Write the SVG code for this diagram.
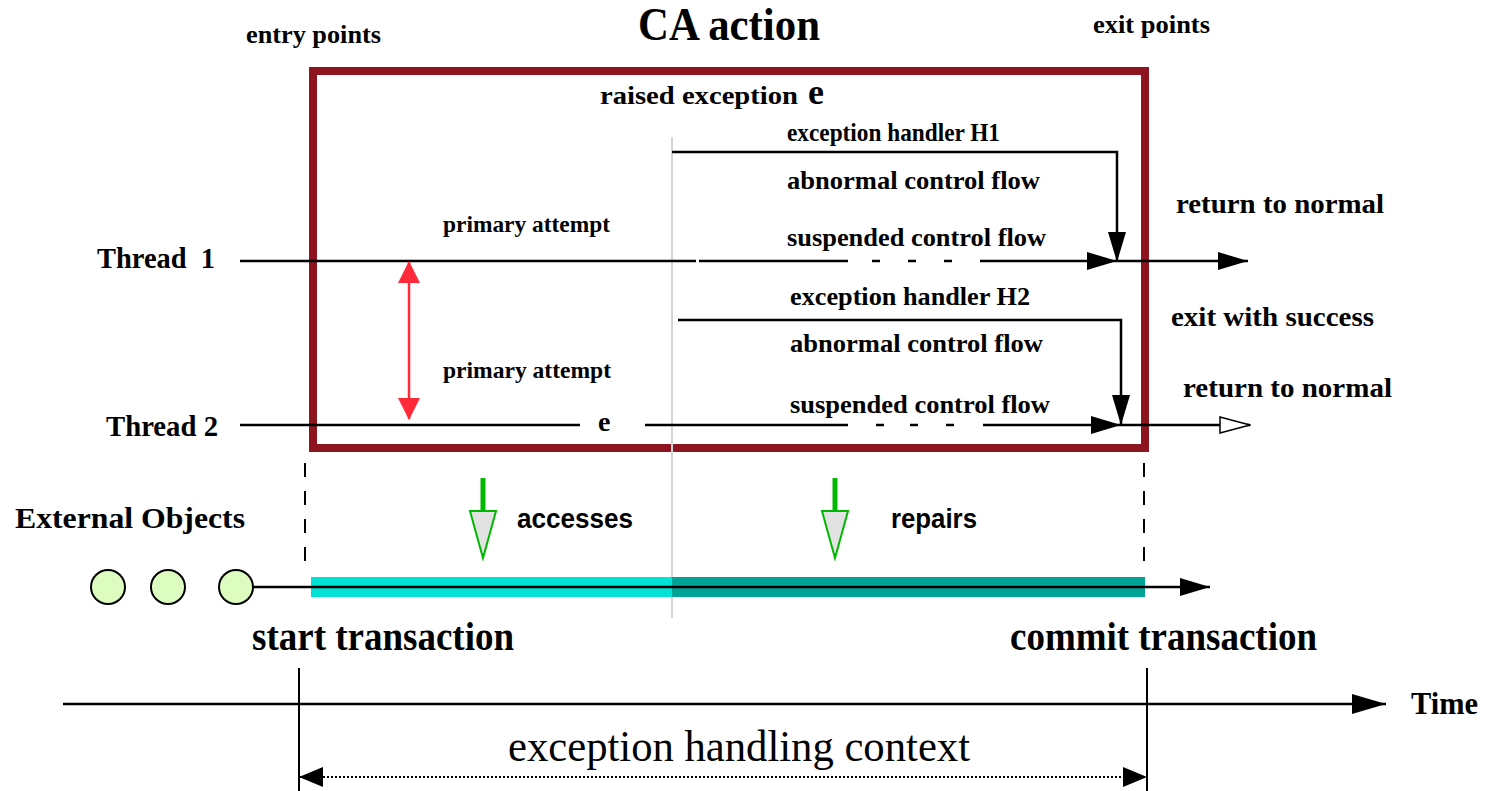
<svg xmlns="http://www.w3.org/2000/svg" width="1487" height="791" viewBox="0 0 1487 791">
  <style>
    .lbl { font-family: "Liberation Serif", "Times New Roman", serif; font-weight: bold; fill: #000; }
    .sans { font-family: "Liberation Sans", Arial, sans-serif; font-weight: bold; fill: #000; }
    .reg { font-family: "Liberation Serif", "Times New Roman", serif; fill: #000; }
    .flow { fill: none; stroke: #000; stroke-width: 2.5; }
    .dash { fill: none; stroke: #000; stroke-width: 2; stroke-dasharray: 14 14; }
  </style>
  <defs>
    <marker id="head" viewBox="0 0 30 18" refX="30" refY="9" markerWidth="30" markerHeight="18" markerUnits="userSpaceOnUse" orient="auto">
      <path d="M0 0 L30 9 L0 18 Z" fill="#000"/>
    </marker>
    <marker id="head-open" viewBox="0 0 32 18" refX="31" refY="9" markerWidth="32" markerHeight="18" markerUnits="userSpaceOnUse" orient="auto">
      <path d="M1 1 L31 9 L1 17 Z" fill="#fff" stroke="#000" stroke-width="1.5"/>
    </marker>
    <marker id="head-red" viewBox="0 0 22 22" refX="21" refY="11" markerWidth="22" markerHeight="22" markerUnits="userSpaceOnUse" orient="auto-start-reverse">
      <path d="M0 0 L22 11 L0 22 Z" fill="#ff2a3a"/>
    </marker>
    <marker id="head-dim" viewBox="0 0 24 20" refX="24" refY="10" markerWidth="24" markerHeight="20" markerUnits="userSpaceOnUse" orient="auto-start-reverse">
      <path d="M0 0 L24 10 L0 20 Z" fill="#000"/>
    </marker>
    <marker id="head-time" viewBox="0 0 34 20" refX="34" refY="10" markerWidth="34" markerHeight="20" markerUnits="userSpaceOnUse" orient="auto">
      <path d="M0 0 L34 10 L0 20 Z" fill="#000"/>
    </marker>
    <g id="green-arrow">
      <line x1="0" y1="0" x2="0" y2="33" stroke="#00b800" stroke-width="5"/>
      <path d="M-13 33 L13 33 L0 80 Z" fill="#e2e2e2" stroke="#00b800" stroke-width="2"/>
    </g>
  </defs>

  <!-- headings -->
  <g id="headings">
    <text class="lbl" x="246" y="43" font-size="26" textLength="135" lengthAdjust="spacingAndGlyphs">entry points</text>
    <text class="lbl" x="638" y="40" font-size="46" textLength="182" lengthAdjust="spacingAndGlyphs">CA action</text>
    <text class="lbl" x="1093" y="33" font-size="25" textLength="117" lengthAdjust="spacingAndGlyphs">exit points</text>
  </g>

  <!-- CA action boundary -->
  <g id="ca-action">
    <rect x="313" y="71" width="832" height="377" fill="none" stroke="#8e1520" stroke-width="8"/>
    <text class="lbl" x="600" y="104" font-size="25" textLength="198" lengthAdjust="spacingAndGlyphs">raised exception</text>
    <text class="lbl" x="808" y="104" font-size="36">e</text>
  </g>

  <!-- moment the exception is raised -->
  <line id="raise-point" x1="672" y1="137" x2="672" y2="618" stroke="#d4d4d4" stroke-width="2"/>

  <!-- thread 1 -->
  <g id="thread1">
    <text class="lbl" x="97" y="268" font-size="29" textLength="118" lengthAdjust="spacingAndGlyphs" xml:space="preserve">Thread  1</text>
    <text class="lbl" x="443" y="232" font-size="23" textLength="167" lengthAdjust="spacingAndGlyphs">primary attempt</text>
    <text class="lbl" x="787" y="246" font-size="25" textLength="259" lengthAdjust="spacingAndGlyphs">suspended control flow</text>
    <text class="lbl" x="1176" y="213" font-size="27" textLength="208" lengthAdjust="spacingAndGlyphs">return to normal</text>
  </g>

  <!-- handler H1 -->
  <g id="handler-h1">
    <text class="lbl" x="787" y="141" font-size="26" textLength="213" lengthAdjust="spacingAndGlyphs">exception handler H1</text>
    <text class="lbl" x="787" y="189" font-size="25" textLength="253" lengthAdjust="spacingAndGlyphs">abnormal control flow</text>
  </g>

  <!-- thread 2 -->
  <g id="thread2">
    <text class="lbl" x="106" y="436" font-size="29" textLength="112" lengthAdjust="spacingAndGlyphs">Thread 2</text>
    <text class="lbl" x="443" y="378" font-size="23" textLength="168" lengthAdjust="spacingAndGlyphs">primary attempt</text>
    <text class="lbl" x="598" y="431" font-size="28">e</text>
    <text class="lbl" x="790" y="413" font-size="25" textLength="260" lengthAdjust="spacingAndGlyphs">suspended control flow</text>
    <text class="lbl" x="1171" y="326" font-size="27" textLength="203" lengthAdjust="spacingAndGlyphs">exit with success</text>
    <text class="lbl" x="1183" y="397" font-size="27" textLength="209" lengthAdjust="spacingAndGlyphs">return to normal</text>
  </g>

  <!-- handler H2 -->
  <g id="handler-h2">
    <text class="lbl" x="790" y="305" font-size="26" textLength="240" lengthAdjust="spacingAndGlyphs">exception handler H2</text>
    <text class="lbl" x="790" y="352" font-size="25" textLength="253" lengthAdjust="spacingAndGlyphs">abnormal control flow</text>
  </g>

  <!-- external objects and their transaction -->
  <g id="external-objects">
    <text class="lbl" x="15" y="528" font-size="30" textLength="230" lengthAdjust="spacingAndGlyphs">External Objects</text>
    <circle cx="108" cy="587" r="17" fill="#ddfcc0" stroke="#000" stroke-width="2"/>
    <circle cx="168" cy="587" r="17" fill="#ddfcc0" stroke="#000" stroke-width="2"/>
    <circle cx="236" cy="587" r="17" fill="#ddfcc0" stroke="#000" stroke-width="2"/>
  </g>

  <g id="transaction">
    <rect x="311" y="577" width="361" height="20" fill="#00e2d6"/>
    <rect x="672" y="577" width="473" height="20" fill="#00a398"/>
    <text class="lbl" x="252" y="650" font-size="39" textLength="262" lengthAdjust="spacingAndGlyphs">start transaction</text>
    <text class="lbl" x="1010" y="650" font-size="39" textLength="307" lengthAdjust="spacingAndGlyphs">commit transaction</text>
  </g>

  <g id="accesses">
    <use href="#green-arrow" x="483" y="478"/>
    <text class="sans" x="517" y="528" font-size="27" textLength="116" lengthAdjust="spacingAndGlyphs">accesses</text>
  </g>
  <g id="repairs">
    <use href="#green-arrow" x="835" y="478"/>
    <text class="sans" x="891" y="528" font-size="27" textLength="86" lengthAdjust="spacingAndGlyphs">repairs</text>
  </g>

  <!-- time axis and handling context -->
  <g id="time-axis">
    <text class="lbl" x="1411" y="714" font-size="31" textLength="67" lengthAdjust="spacingAndGlyphs">Time</text>
    <line x1="299" y1="668" x2="299" y2="791" stroke="#000" stroke-width="2"/>
    <line x1="1147" y1="668" x2="1147" y2="791" stroke="#000" stroke-width="2"/>
  </g>
  <g id="context">
    <text class="reg" x="508" y="761" font-size="44" textLength="462" lengthAdjust="spacingAndGlyphs">exception handling context</text>
  </g>

  <!-- connectors -->
  <g id="connectors">
    <!-- thread 1 flow -->
    <path class="flow" d="M240 261 H696 M699 261 H848"/>
    <path class="flow" d="M872 261 H880 M908 261 H916 M944 261 H952"/>
    <path class="flow" d="M980 261 H1117" marker-end="url(#head)"/>
    <path class="flow" d="M1117 261 H1248" marker-end="url(#head)"/>
    <path class="flow" d="M672 152 H1117 V262" marker-end="url(#head)"/>

    <!-- thread 2 flow -->
    <path class="flow" d="M240 425 H580 M645 425 H848"/>
    <path class="flow" d="M876 425 H884 M910 425 H918 M946 425 H954"/>
    <path class="flow" d="M983 425 H1121" marker-end="url(#head)"/>
    <path class="flow" d="M1121 425 H1250" marker-end="url(#head-open)"/>
    <path class="flow" d="M678 320 H1121 V425" marker-end="url(#head)"/>

    <!-- coordination between the threads -->
    <line x1="409" y1="262" x2="409" y2="419" stroke="#ff2a3a" stroke-width="2.5" marker-start="url(#head-red)" marker-end="url(#head-red)"/>

    <!-- entry and exit boundaries -->
    <line class="dash" x1="305" y1="463" x2="305" y2="570"/>
    <line class="dash" x1="1144" y1="463" x2="1144" y2="570"/>

    <!-- object timeline -->
    <path class="flow" d="M253 587 H1210" marker-end="url(#head)"/>

    <!-- time -->
    <path fill="none" stroke="#000" stroke-width="2.5" d="M63 704 H1386" marker-end="url(#head-time)"/>

    <!-- context span -->
    <line x1="299" y1="777" x2="1147" y2="777" stroke="#000" stroke-width="2" stroke-dasharray="2 2" marker-start="url(#head-dim)" marker-end="url(#head-dim)"/>
  </g>
</svg>
